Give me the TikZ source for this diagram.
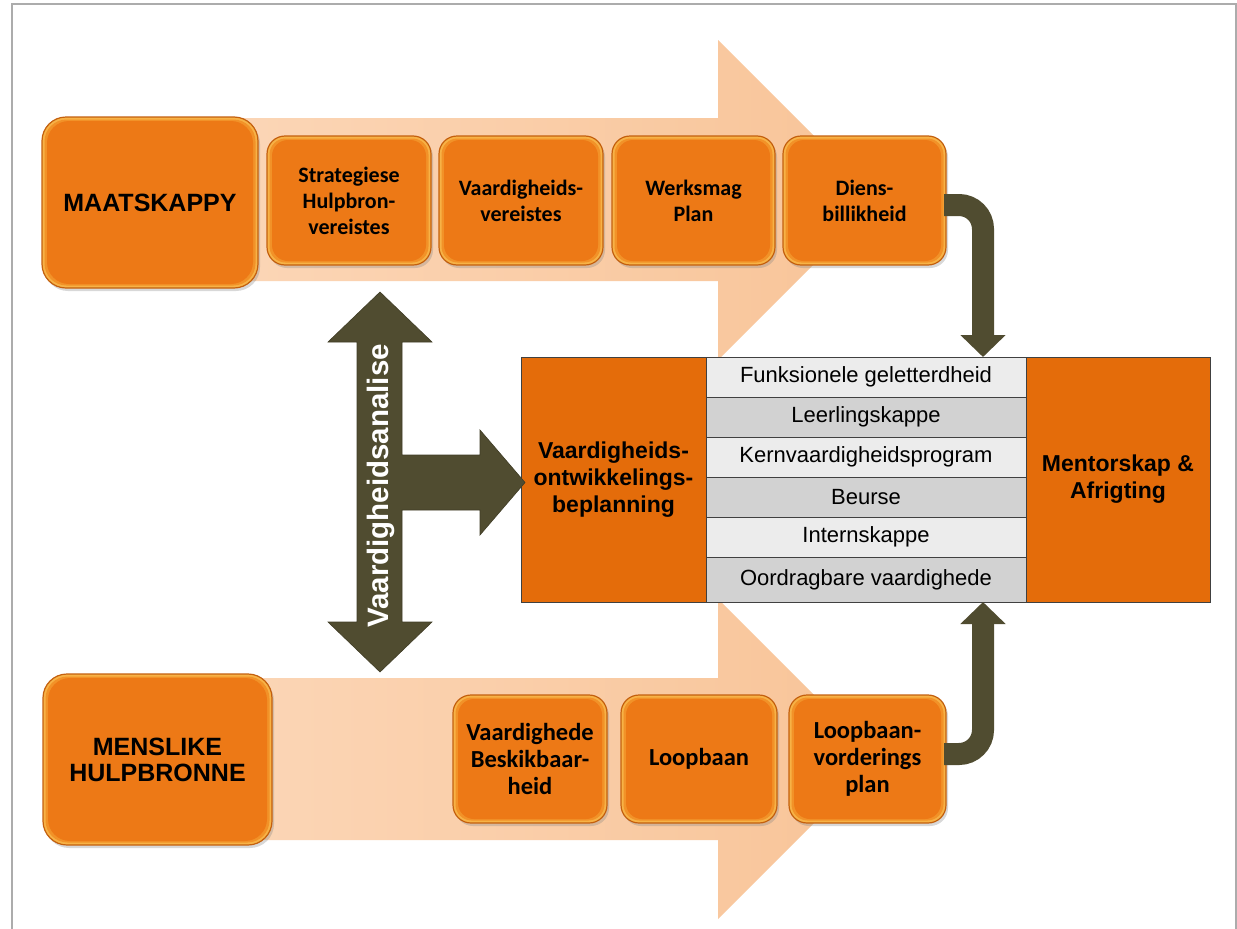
\documentclass[tikz,border=0pt]{standalone}
\usepackage{fontspec}
\setmainfont{Liberation Sans}
\newfontfamily\calib{Carlito}
\usetikzlibrary{arrows.meta,shadows}
\definecolor{peachL}{RGB}{252,216,186}
\definecolor{peachR}{RGB}{248,196,152}
\definecolor{boxor}{RGB}{237,121,22}
\definecolor{boxmid}{RGB}{242,146,40}
\definecolor{boxlight}{RGB}{247,178,70}
\definecolor{boxedge}{RGB}{196,96,14}
\definecolor{tabor}{RGB}{228,108,10}
\definecolor{olive}{RGB}{80,76,48}
\definecolor{rowlight}{RGB}{236,236,236}
\definecolor{rowdark}{RGB}{210,210,210}
\definecolor{framegray}{RGB}{172,172,172}
\begin{document}
\begin{tikzpicture}[x=1pt,y=-1pt,
  bevel/.style={path picture={
      \fill[boxmid, rounded corners=#1] ([shift={(2.5pt,-2.5pt)}]path picture bounding box.north west) rectangle ([shift={(-2.5pt,2.5pt)}]path picture bounding box.south east);
      \fill[boxor, rounded corners=#1] ([shift={(5pt,-4pt)}]path picture bounding box.north west) rectangle ([shift={(-5pt,4pt)}]path picture bounding box.south east);}},
  bigbox/.style={rounded corners=24pt, fill=boxlight, draw=boxedge, line width=1.2pt,
    inner sep=0pt, outer sep=0pt, align=center, bevel=22pt,
    drop shadow={shadow xshift=2pt, shadow yshift=-3pt, opacity=0.3},
    font=\bfseries\fontsize{25}{26}\selectfont},
  smallbox/.style={rounded corners=18pt, fill=boxlight, draw=boxedge, line width=1.2pt,
    inner sep=0pt, outer sep=0pt, align=center, bevel=16pt,
    drop shadow={shadow xshift=2pt, shadow yshift=-3pt, opacity=0.3},
    font=\calib\bfseries\fontsize{22}{26}\selectfont},
  tabcell/.style={draw=black!75, line width=0.8pt, inner sep=0pt, outer sep=0pt, align=center},
  orcell/.style={tabcell, fill=tabor, font=\bfseries\fontsize{23}{27}\selectfont},
  lrow/.style={tabcell, fill=rowlight, minimum width=320pt, minimum height=40pt, font=\fontsize{22}{26}\selectfont},
  drow/.style={lrow, fill=rowdark},
  flow/.style={left color=peachL, right color=peachR, draw=none},
  pipe/.style={draw=olive, line width=22pt, rounded corners=24pt,
    -{Triangle[length=22pt,width=44pt]}},
  olivefill/.style={fill=olive, draw=olive!80!black, line width=0.6pt}
]
\useasboundingbox (0,0) rectangle (1237,929);
\fill[white] (0,0) rectangle (1237,929);
\draw[framegray, line width=2pt] (12,935) -- (12,4) -- (1236,4) -- (1236,935);

% broad flow arrows
\path[flow] (150,118) -- (718,118) -- (718,40) -- (878,200) -- (718,360) -- (718,281) -- (150,281) -- cycle;
\path[flow] (150,678) -- (718,678) -- (718,599) -- (878,759) -- (718,919) -- (718,840) -- (150,840) -- cycle;

% top row
\node[bigbox, minimum width=216pt, minimum height=171pt] (maat) at (150,202.5) {MAATSKAPPY};
\node[smallbox, minimum width=164pt, minimum height=129pt] (strat) at (349,200.5)
  {\fontsize{22}{20.5}\selectfont Strategiese\\Hulpbron-\\vereistes};
\node[smallbox, minimum width=164pt, minimum height=129pt] (vaarv) at (521,200.5) {Vaardigheids-\\vereistes};
\node[smallbox, minimum width=163pt, minimum height=129pt] (werks) at (693.5,200.5) {Werksmag\\Plan};
\node[smallbox, minimum width=163pt, minimum height=129pt] (diens) at (864.5,200.5) {Diens-\\billikheid};

% bottom row
\node[bigbox, minimum width=229pt, minimum height=171pt] (mens) at (157.5,759.5) {MENSLIKE\\HULPBRONNE};
\node[smallbox, minimum width=154pt, minimum height=128pt, font=\calib\bfseries\fontsize{24.5}{27}\selectfont] (vbes) at (530,759) {Vaardighede\\Beskikbaar-\\heid};
\node[smallbox, minimum width=156pt, minimum height=128pt, font=\calib\bfseries\fontsize{24.5}{27}\selectfont] (loop) at (699,759) {Loopbaan};
\node[smallbox, minimum width=157pt, minimum height=128pt, font=\calib\bfseries\fontsize{24.5}{27}\selectfont] (lvp) at (867.5,759) {Loopbaan-\\vorderings\\plan};

% table
\node[orcell, minimum width=185pt, minimum height=245pt] (vdb) at (613.5,479.5) {Vaardigheids-\\ontwikkelings-\\beplanning};
\node[lrow] (r1) at (866,377) {Funksionele geletterdheid};
\node[drow] (r2) at (866,417) {Leerlingskappe};
\node[lrow] (r3) at (866,457) {Kernvaardigheidsprogram};
\node[drow] (r4) at (866,497) {Beurse};
\node[lrow] (r5) at (866,537) {Internskappe};
\node[drow, minimum height=45pt] (r6) at (866,579.5) {Oordragbare vaardighede};
\node[orcell, minimum width=184pt, minimum height=245pt] (ment) at (1118,479.5) {Mentorskap \&\\Afrigting};

% pipes
\coordinate (px) at (983,0);
\coordinate (t1) at ([yshift=-4.5pt]diens.east);
\coordinate (b1) at ([yshift=5pt]lvp.east);
\draw[pipe] ([xshift=-2pt]t1) -| (px |- r1.north);
\draw[pipe] ([xshift=-2pt]b1) -| (px |- r6.south);

% skills analysis arrows
\path[olivefill] (380,292) -- (432,342) -- (402,342) -- (402,455) -- (480,455) -- (480,430)
  -- (525,482.5) -- (480,535) -- (480,510) -- (402,510) -- (402,622) -- (432,622)
  -- (380,672) -- (328,622) -- (357,622) -- (357,342) -- (328,342) -- cycle;
\node[rotate=90, text=white, font=\bfseries\fontsize{29.5}{30}\selectfont] (va) at (380.5,486) {Vaardigheidsanalise};
\end{tikzpicture}
\end{document}
